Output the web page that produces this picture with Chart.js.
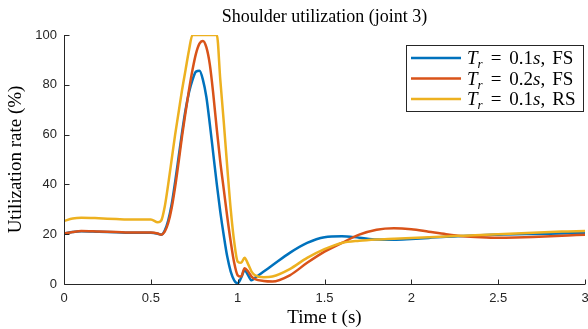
<!DOCTYPE html>
<html>
<head>
<meta charset="utf-8">
<title>Shoulder utilization (joint 3)</title>
<script src="https://cdn.jsdelivr.net/npm/chart.js@4.4.1/dist/chart.umd.min.js"></script>
<style>
  html, body { margin: 0; padding: 0; background: #fff; }
  #wrap { width: 588px; height: 329px; }
</style>
</head>
<body>
<div id="wrap"><canvas id="chart" width="588" height="329"></canvas></div>
<script>
// time samples (s), shared by the three runs
const times = [0, 0.05, 0.1, 0.2, 0.3, 0.4, 0.5, 0.54, 0.56, 0.58, 0.6, 0.62, 0.64, 0.66, 0.68, 0.7,
  0.72, 0.74, 0.76, 0.78, 0.8, 0.82, 0.84, 0.86, 0.88, 0.9, 0.92, 0.94, 0.96, 0.98, 1.0, 1.02, 1.04,
  1.06, 1.08, 1.1, 1.15, 1.2, 1.3, 1.4, 1.5, 1.6, 1.7, 1.8, 1.9, 2.0, 2.1, 2.2, 2.3, 2.4, 2.5, 2.6,
  2.7, 2.8, 2.9, 3.0];

// utilization rate (%) — Tr = 0.1s, FS
const fsFast = [20.3, 20.9, 21.2, 21.0, 20.8, 20.6, 20.6, 20.2, 19.8, 21.5, 25.5, 32, 41, 51, 61, 70,
  77, 82, 85.3, 85.6, 82, 75, 64, 52, 40, 29, 19.5, 11, 5, 1.5, 0.3, 2.5, 5.5,
  3.5, 1.5, 2.5, 5, 7.5, 12.5, 16.5, 18.8, 19.2, 18.6, 17.9, 17.8, 18.1, 18.5, 19.0, 19.3, 19.6, 19.8, 20.0,
  20.1, 20.2, 20.4, 20.5];

// Tr = 0.2s, FS
const fsSlow = [20.3, 20.9, 21.3, 21.1, 20.9, 20.7, 20.7, 20.3, 19.8, 21, 24.5, 30.5, 39, 49, 59.5, 69,
  78, 86, 92.5, 96.5, 97.6, 95, 88, 76, 62, 49, 38, 27, 17, 8.5, 3.5, 3, 6.3,
  5, 3, 2, 1.2, 1.0, 3.5, 8.5, 13, 16.5, 19.8, 21.8, 22.4, 22, 21, 20, 19.2, 18.8, 18.6, 18.7,
  18.9, 19.2, 19.5, 19.8];

// Tr = 0.1s, RS
const rsFast = [25.3, 26.3, 26.6, 26.4, 26.1, 25.9, 25.9, 24.8, 25.5, 31, 40, 50, 60, 69, 78, 86,
  94, 100, 100, 100, 100, 100, 100, 100, 100, 82, 65, 47, 30, 17, 9, 8.5, 10.5,
  8, 5, 3.5, 2.7, 3, 6, 10.5, 14, 16.5, 17.4, 17.9, 18.2, 18.5, 18.8, 19.1, 19.4, 19.7, 20, 20.3,
  20.6, 20.9, 21.1, 21.3];

const xTicks = [0, 0.5, 1, 1.5, 2, 2.5, 3];
const yTicks = [0, 20, 40, 60, 80, 100];
const runLabels = [["0.1", "FS"], ["0.2", "FS"], ["0.1", "RS"]];

const AXIS = "#262626";
const SERIF = "'Liberation Serif', 'Times New Roman', serif";
const SANS = "'Liberation Sans', Arial, Helvetica, sans-serif";
const colors = ["#0072BD", "#D95319", "#EDB120"];

const toPoints = (vals) => vals.map((v, i) => ({ x: times[i], y: v }));

// MATLAB-like axes: left and bottom lines with inward ticks
const matlabAxes = {
  id: "matlabAxes",
  afterDatasetsDraw(chart) {
    const { ctx, chartArea: a, scales: { x, y } } = chart;
    const bottom = Math.round(a.bottom) + 0.5;
    const left = Math.round(a.left) + 0.5;
    ctx.save();
    ctx.strokeStyle = AXIS;
    ctx.lineWidth = 1;
    ctx.beginPath();
    ctx.moveTo(left, a.top);
    ctx.lineTo(left, bottom);
    ctx.lineTo(a.right, bottom);
    x.ticks.forEach((t) => {
      const px = Math.round(x.getPixelForValue(t.value)) + 0.5;
      ctx.moveTo(px, bottom);
      ctx.lineTo(px, bottom - 5);
    });
    y.ticks.forEach((t) => {
      const py = Math.round(y.getPixelForValue(t.value)) + 0.5;
      ctx.moveTo(left, py);
      ctx.lineTo(left + 5, py);
    });
    ctx.stroke();
    ctx.restore();
  }
};

// legend with the LaTeX-style labels (T_r = 0.1s, FS)
const mathLegend = {
  id: "mathLegend",
  afterDraw(chart) {
    const { ctx } = chart;
    const box = { x: 406.5, y: 45.5, w: 177, h: 66 };
    ctx.save();
    ctx.fillStyle = "#fff";
    ctx.fillRect(box.x, box.y, box.w, box.h);
    ctx.strokeStyle = AXIS;
    ctx.lineWidth = 1;
    ctx.strokeRect(box.x, box.y, box.w, box.h);
    ctx.textBaseline = "alphabetic";
    runLabels.forEach(([tr, kind], i) => {
      const cy = box.y + 12.5 + i * 20.5;
      ctx.strokeStyle = colors[i];
      ctx.lineWidth = 2.5;
      ctx.beginPath();
      ctx.moveTo(411, cy);
      ctx.lineTo(461, cy);
      ctx.stroke();
      const parts = [
        ["italic 19px " + SERIF, "T", 0, 0],
        ["italic 13px " + SERIF, "r", 4, 8],
        ["19px " + SERIF, "=", 0, 8],
        ["19px " + SERIF, tr, 0, 0],
        ["italic 19px " + SERIF, "s", 0, 0],
        ["19px " + SERIF, ",", 0, 7],
        ["19px " + SERIF, kind, 0, 0]
      ];
      let tx = 467;
      ctx.fillStyle = "#000";
      parts.forEach(([font, txt, dy, gap]) => {
        ctx.font = font;
        ctx.fillText(txt, tx, cy + 6 + dy);
        tx += ctx.measureText(txt).width + gap;
      });
    });
    ctx.restore();
  }
};

new Chart(document.getElementById("chart"), {
  type: "line",
  data: {
    datasets: [
      { data: toPoints(fsFast), borderColor: colors[0], order: 2 },
      { data: toPoints(fsSlow), borderColor: colors[1], order: 1 },
      { data: toPoints(rsFast), borderColor: colors[2], order: 0 }
    ]
  },
  options: {
    responsive: false,
    animation: false,
    events: [],
    layout: { padding: { left: 0, right: 3, top: 0, bottom: 0 } },
    elements: {
      point: { radius: 0 },
      line: { borderWidth: 2.5, cubicInterpolationMode: "monotone", fill: false }
    },
    plugins: {
      legend: { display: false },
      tooltip: { enabled: false },
      title: {
        display: true,
        fullSize: false,
        text: "Shoulder utilization (joint 3)",
        color: "#000",
        font: { family: SERIF, size: 18, weight: "normal" },
        padding: { top: 6.2, bottom: 7.2 }
      }
    },
    scales: {
      x: {
        type: "linear",
        min: 0,
        max: 3,
        afterBuildTicks: (s) => { s.ticks = xTicks.map((v) => ({ value: v })); },
        afterFit: (s) => { s.height = 45; s.paddingLeft = 0; s.paddingRight = 0; },
        grid: { display: false, drawTicks: false },
        border: { display: false },
        ticks: { color: AXIS, font: { family: SANS, size: 13 }, padding: 7, maxRotation: 0,
          callback: (v) => String(v) },
        title: { display: true, text: "Time t (s)", color: "#000",
          font: { family: SERIF, size: 19 }, padding: { top: 0, bottom: 0 } }
      },
      y: {
        min: 0,
        max: 100,
        afterBuildTicks: (s) => { s.ticks = yTicks.map((v) => ({ value: v })); },
        afterFit: (s) => { s.width = 64; s.paddingTop = 0; s.paddingBottom = 0; },
        grid: { display: false, drawTicks: false },
        border: { display: false },
        ticks: { color: AXIS, font: { family: SANS, size: 13 }, padding: 7 },
        title: { display: true, text: "Utilization rate (%)", color: "#000",
          font: { family: SERIF, size: 19 }, padding: { top: 5, bottom: 0 } }
      }
    }
  },
  plugins: [matlabAxes, mathLegend]
});
</script>
</body>
</html>
